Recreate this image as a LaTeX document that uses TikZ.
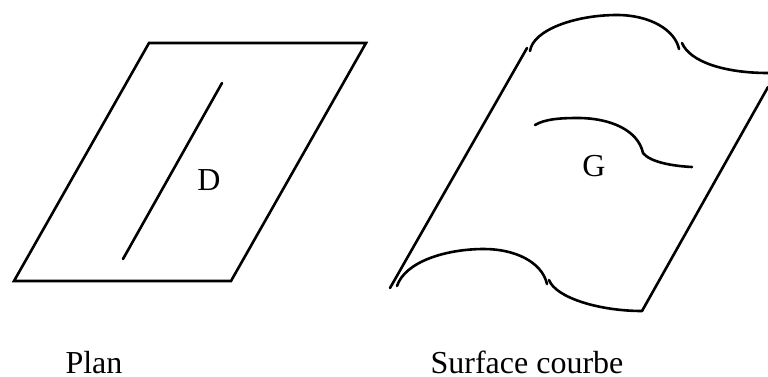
\documentclass[tikz,border=0pt]{standalone}
\usepackage{fontspec}
\setmainfont{Liberation Serif}
\begin{document}
\begin{tikzpicture}[
            x=1pt, y=-1pt,
            edge/.style={draw, line width=2.6pt, line cap=round},
            label/.style={font=\fontsize{32}{36}\selectfont, anchor=base, inner sep=0pt}
        ]
            \useasboundingbox (0,0) rectangle (768,376);

            \coordinate (a1) at (149, 43);
            \coordinate (a2) at (366, 43);
            \coordinate (a3) at (231, 281);
            \coordinate (a4) at (14,  281);
            \coordinate (m1) at (222, 83);
            \coordinate (m2) at (123, 259);
            \draw[edge] (a1)--(a2)--(a3)--(a4)--cycle;
            \draw[edge] (m1)--(m2);

            \coordinate (b1) at (527, 48);
            \coordinate (b2) at (390, 288);
            \coordinate (b3) at (768, 87);
            \coordinate (b4) at (642, 311);
            \draw[edge] (b1)--(b2);
            \draw[edge] (b3)--(b4);

            \coordinate (t1) at (530, 51);
            \coordinate (t2) at (617, 15);
            \coordinate (t3) at (679, 49);
            \coordinate (t4) at (682, 43);
            \coordinate (t5) at (768, 73);
            \draw[edge] (t1) .. controls (533, 30) and (575, 15) .. (t2) .. controls (650, 15) and (675, 30) .. (t3);
            \draw[edge] (t4) .. controls (690, 62) and (725, 73) .. (t5);

            \coordinate (c1) at (535, 125);
            \coordinate (c2) at (578, 118);
            \coordinate (c3) at (643, 153);
            \coordinate (c4) at (692, 167);
            \draw[edge] (c1) .. controls (545, 119) and (560, 118) .. (c2) .. controls (610, 118) and (638, 130) .. (c3) .. controls (650, 162) and (672, 166) .. (c4);

            \coordinate (d1) at (397, 286);
            \coordinate (d2) at (484, 249);
            \coordinate (d3) at (547, 284);
            \coordinate (d4) at (549, 280);
            \draw[edge] (d1) .. controls (405, 262) and (445, 249) .. (d2) .. controls (515, 249) and (542, 262) .. (d3);
            \draw[edge] (d4) .. controls (556, 298) and (600, 311) .. (b4);

            \node[label] (D) at (209, 190) {D};
            \node[label] (G) at (594, 176) {G};
            \node[label] (plan) at (94, 373.5) {Plan};
            \node[label] (surface) at (527, 373.5) {Surface courbe};
        \end{tikzpicture}
\end{document}
